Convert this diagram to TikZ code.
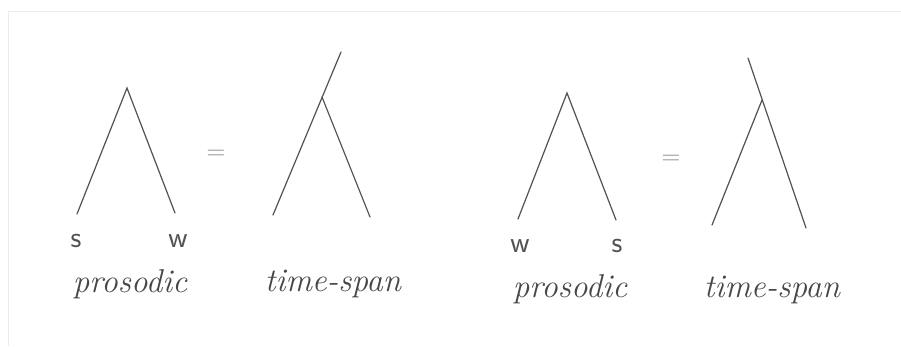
\documentclass[tikz,border=0pt]{standalone}
\usepackage{fontspec}
\begin{document}
\begin{tikzpicture}[x=1pt,y=-1pt,
  branch/.style={draw=black!68, line width=1.2pt, line cap=round},
  frameline/.style={draw=black!8, line width=0.8pt},
  word/.style={text=black!72, inner sep=0pt, font=\fontsize{33}{33}\selectfont\itshape},
  leaf/.style={text=black!68, inner sep=0pt, font=\fontsize{30}{30}\selectfont\sffamily},
  eq/.style={text=black!45, inner sep=0pt, font=\fontsize{26}{26}\selectfont}]
\useasboundingbox (0,0) rectangle (901,346);
\fill[white] (0,0) rectangle (901,346);
% faint frame
\coordinate (f1) at (8,346);
\coordinate (f2) at (8,11);
\coordinate (f3) at (901,11);
\draw[frameline] (f1) -- (f2) -- (f3);
% tree 1: prosodic s w
\coordinate (a1) at (127,88);
\coordinate (l1) at (77,214);
\coordinate (r1) at (175,213);
\draw[branch] (l1) -- (a1) -- (r1);
\node[leaf] (s1) at (76,241) {s};
\node[leaf] (w1) at (178,241) {w};
\node[word] (p1) at (130,284) {prosodic};
\node[eq] (e1) at (216,155) {=};
% tree 2: time-span
\coordinate (t2) at (341,52);
\coordinate (b2) at (322,97);
\coordinate (l2) at (273,215);
\coordinate (r2) at (370,217);
\draw[branch] (t2) -- (l2);
\draw[branch] (b2) -- (r2);
\node[word] (ts1) at (333,284) {time-span};
% tree 3: prosodic w s
\coordinate (a3) at (567,93);
\coordinate (l3) at (518,219);
\coordinate (r3) at (616,220);
\draw[branch] (l3) -- (a3) -- (r3);
\node[leaf] (w3) at (520,246) {w};
\node[leaf] (s3) at (617,246) {s};
\node[word] (p3) at (570,289) {prosodic};
\node[eq] (e3) at (671,160) {=};
% tree 4: time-span
\coordinate (t4) at (748,58);
\coordinate (b4) at (762,100);
\coordinate (l4) at (712,225);
\coordinate (r4) at (806,228);
\draw[branch] (t4) -- (r4);
\draw[branch] (b4) -- (l4);
\node[word] (ts4) at (772,290) {time-span};
\end{tikzpicture}
\end{document}
